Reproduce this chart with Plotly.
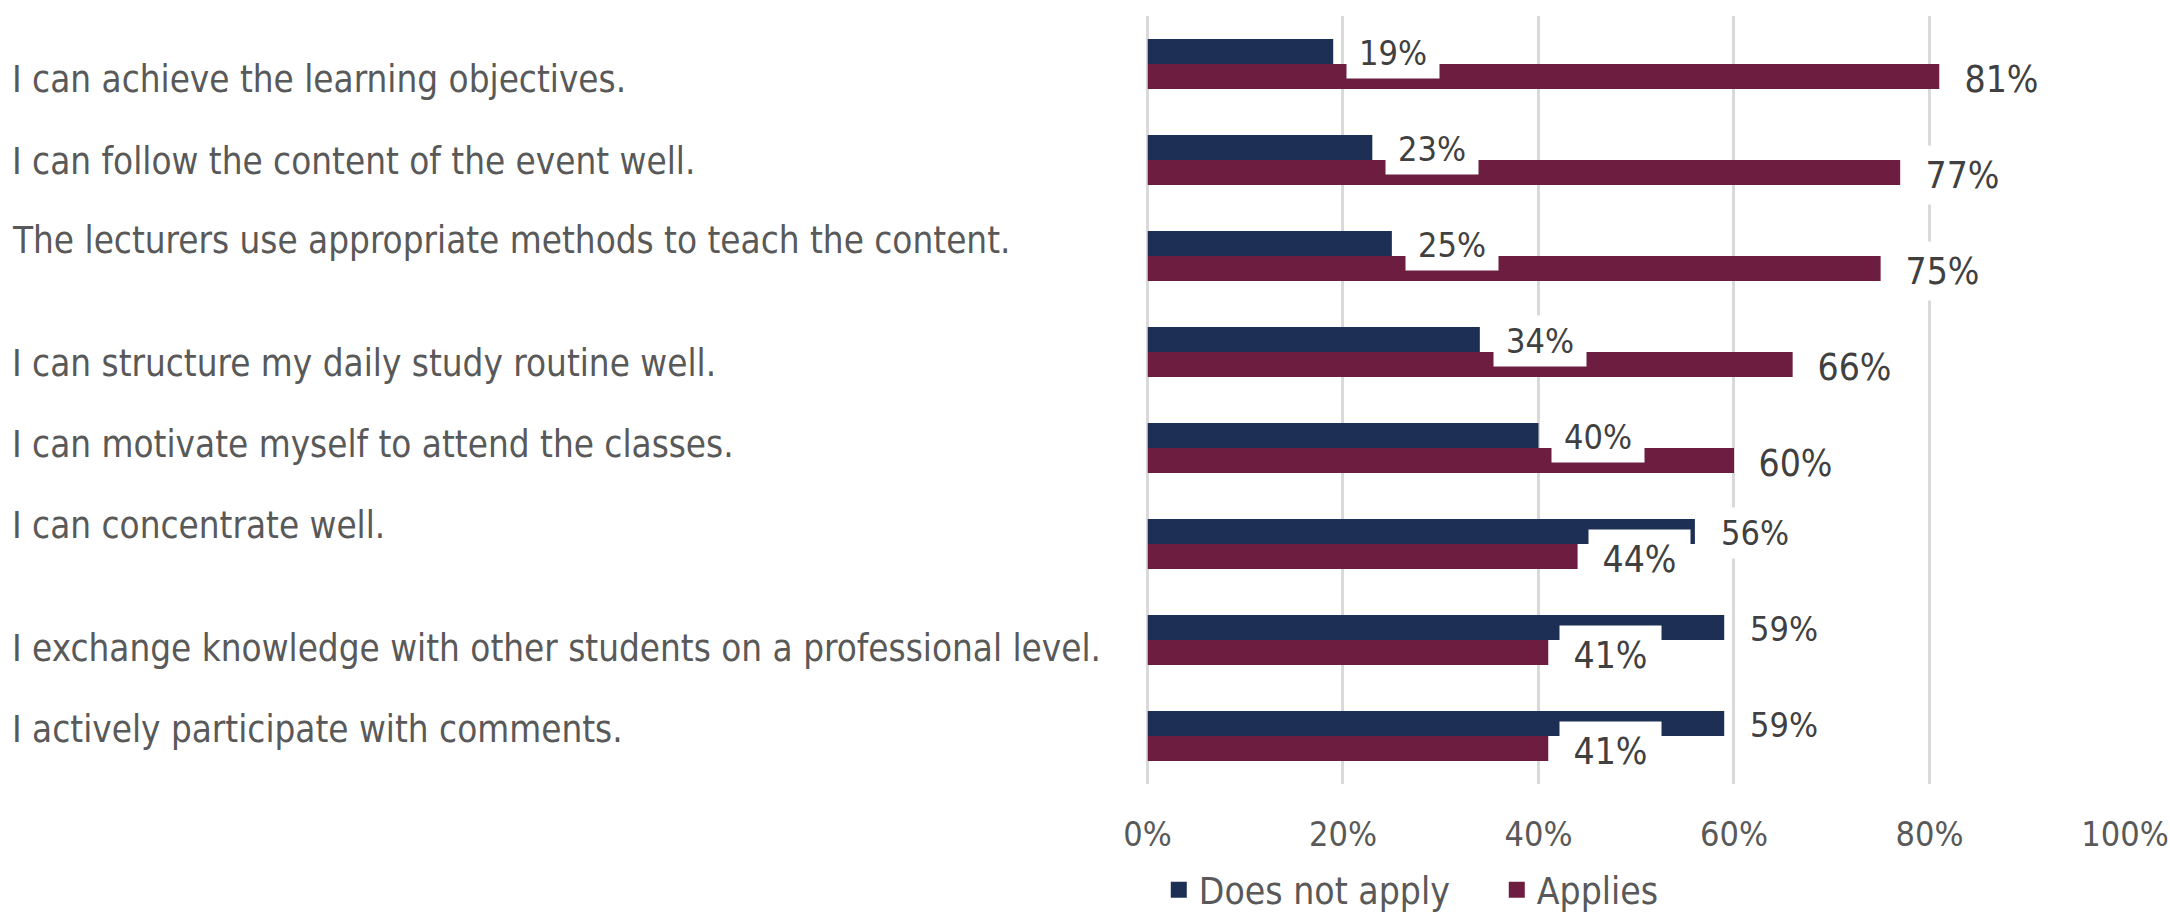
import plotly.graph_objects as go

categories = [
    "I can achieve the learning objectives.",
    "I can follow the content of the event well.",
    "The lecturers use appropriate methods to teach the content.",
    "I can structure my daily study routine well.",
    "I can motivate myself to attend the classes.",
    "I can concentrate well.",
    "I exchange knowledge with other students on a professional level.",
    "I actively participate with comments.",
]
does_not_apply = [19, 23, 25, 34, 40, 56, 59, 59]
applies = [81, 77, 75, 66, 60, 44, 41, 41]
x_ticks = [0, 20, 40, 60, 80, 100]
series_names = ["Does not apply", "Applies"]

# style: small vertical nudges (px) of the category text boxes, as in the original layout
label_nudge = [-15, -1, 16, -11, 4, 19, -8, 7]

NAVY = "#1E2F55"
MAROON = "#6D1D40"
TEXT = "#595959"
LABEL = "#404040"
GRID = "#D9D9D9"
FONT = "DejaVu Sans Condensed, Liberation Sans Narrow, Roboto Condensed, DejaVu Sans, sans-serif"

fig = go.Figure()
fig.add_trace(go.Bar(orientation="h", y=categories, x=does_not_apply, name=series_names[0],
                     marker=dict(color=NAVY, line=dict(width=0)), hoverinfo="skip",
                     showlegend=False))
fig.add_trace(go.Bar(orientation="h", y=categories, x=applies, name=series_names[1],
                     marker=dict(color=MAROON, line=dict(width=0)), hoverinfo="skip",
                     showlegend=False))
# legend entries with larger square swatches
for name, col in zip(series_names, [NAVY, MAROON]):
    fig.add_trace(go.Scatter(x=[None], y=[None], mode="markers", name=name,
                             marker=dict(symbol="square", size=17, color=col),
                             hoverinfo="skip", showlegend=True))

annotations = []
for cat, v in zip(categories, does_not_apply):
    annotations.append(dict(x=v, y=cat, xref="x", yref="y", text=f"{v}%", showarrow=False,
                            xanchor="center", yanchor="middle", xshift=60, yshift=11,
                            bgcolor="white", borderpad=3, width=86, height=44,
                            font=dict(family=FONT, size=34, color=LABEL)))
for cat, v in zip(categories, applies):
    annotations.append(dict(x=v, y=cat, xref="x", yref="y", text=f"{v}%", showarrow=False,
                            xanchor="center", yanchor="middle", xshift=62, yshift=-15,
                            bgcolor="white", borderpad=3, width=95, height=52,
                            font=dict(family=FONT, size=37, color=LABEL)))
for cat, dy in zip(categories, label_nudge):
    annotations.append(dict(x=0, y=cat, xref="paper", yref="y", text=cat, showarrow=False,
                            xanchor="left", yanchor="middle", borderpad=0, yshift=dy,
                            font=dict(family=FONT, size=36.5, color=TEXT)))

fig.update_layout(
    width=2170, height=913,
    margin=dict(l=11, r=45, t=16, b=129, autoexpand=False),
    paper_bgcolor="white", plot_bgcolor="white",
    barmode="group", bargap=0.48, bargroupgap=0,
    font=dict(family=FONT, size=35, color=TEXT),
    xaxis=dict(domain=[0.5376, 1], range=[0, 100], tickvals=x_ticks,
               ticktext=[f"{t}%" for t in x_ticks], showgrid=True, gridcolor=GRID,
               gridwidth=3, zeroline=True, zerolinecolor=GRID, zerolinewidth=3,
               showline=False, ticks="outside", ticklen=20, automargin=False,
               ticklabeloverflow="allow",
               tickcolor="rgba(0,0,0,0)", tickfont=dict(family=FONT, size=34, color=TEXT),
               fixedrange=True),
    yaxis=dict(categoryorder="array", categoryarray=categories, autorange="reversed",
               showticklabels=False, showgrid=False, zeroline=False, fixedrange=True,
               automargin=False),
    legend=dict(orientation="h", xref="container", yref="container",
                x=0.534, xanchor="left", y=0.025, yanchor="middle",
                font=dict(family=FONT, size=37, color=TEXT), traceorder="normal",
                itemsizing="trace", itemwidth=30, entrywidth=293, entrywidthmode="pixels",
                bgcolor="rgba(0,0,0,0)"),
    annotations=annotations,
)

fig.write_html("out.html", config={"displayModeBar": False},
               post_script="document.body.style.margin='0';document.body.style.overflow='hidden';")
